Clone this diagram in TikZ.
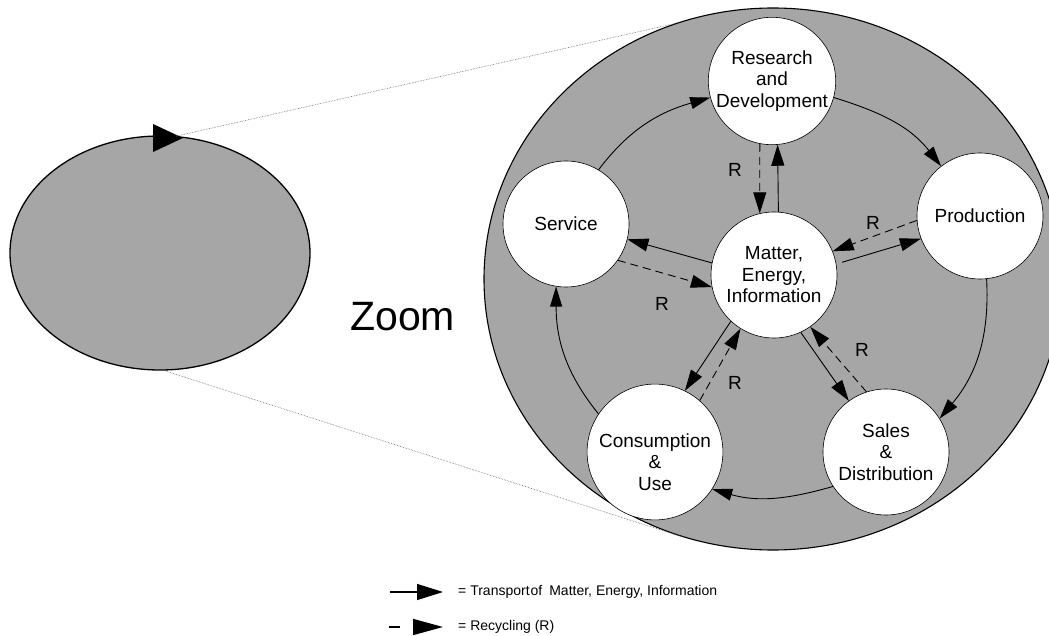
\documentclass[tikz,border=0pt]{standalone}
\usepackage{fontspec}
\setmainfont{Liberation Sans}
\usetikzlibrary{arrows.meta,shapes.geometric}
\definecolor{disc}{RGB}{166,166,166}
\begin{document}
\begin{tikzpicture}[x=1pt,y=1pt,
  stage/.style={circle,draw,line width=0.6pt,fill=white,minimum size=126pt,
    inner sep=0pt,align=center,font=\fontsize{19}{21.5}\selectfont},
  flow/.style={line width=0.9pt,-{Triangle[length=20pt,width=12pt]}},
  transport/.style={line width=0.9pt,-{Triangle[length=21pt,width=13pt]}},
  recycle/.style={transport,dash pattern=on 8pt off 5pt},
  rlabel/.style={font=\fontsize{19}{19}\selectfont,inner sep=0pt},
  zoomline/.style={densely dotted,line width=0.6pt,black!60},
  legendtext/.style={anchor=west,inner sep=0pt,font=\fontsize{14}{16}\selectfont}]
\useasboundingbox (0,0) rectangle (1049,-636);
\clip (0,0) rectangle (1049,-636);

% overview of the whole cycle
\node[ellipse,draw,line width=1.3pt,fill=disc,minimum width=300pt,minimum height=234pt,inner sep=0pt]
  (overview) at (160,-253) {};
\fill (153,-124) -- (183,-138) -- (153,-152) -- cycle;

% enlarged view
\node[ellipse,draw,line width=1.1pt,fill=disc,minimum width=578pt,minimum height=542pt,inner sep=0pt]
  (detail) at (773,-279) {};

\draw[zoomline] (overview.82) -- (detail.111);
\draw[zoomline] (overview.272) -- (detail.251);

\node[font=\fontsize{41}{41}\selectfont,anchor=base west,inner sep=0pt] (zoomword) at (350,-330) {Zoom};

% stages of the life cycle
\node[stage] (research) at (772,-81) {Research\\and\\Development};
\node[stage] (matter) at (774,-275) {Matter,\\Energy,\\Information};
\node[stage] (service) at (566,-224) {Service};
\node[stage] (production) at (980,-216) {Production};
\node[stage] (consumption) at (655,-452) {\rule{0pt}{34pt}Consumption\\\&\\Use};
\node[stage] (sales) at (886,-452) {Sales\\\&\\Distribution};

% outer cycle
\draw[flow] (service.59) to[out=53,in=196] (research.195);
\draw[flow] (research.-15) to[out=-17,in=128] (production.128);
\draw[flow] (production.276) to[out=-87,in=50] (sales.32);
\draw[flow] (sales.213) to[out=196,in=-16] (consumption.-33);
\draw[flow] (consumption.146) to[out=129,in=-90] (service.261);

% exchanges with the centre
\draw[recycle] (research.259) -- (matter.103);
\draw[transport] (matter.86) -- (research.275);
\draw[recycle] (production.184) -- (matter.22);
\draw[transport,shorten <=6pt] (matter.10) -- (production.201);
\draw[transport] (matter.169) -- (service.-14);
\draw[recycle] (service.-35) -- (matter.191);
\draw[transport] (matter.227) -- (consumption.64);
\draw[recycle] (consumption.49) -- (matter.238);
\draw[transport] (matter.-65) -- (sales.126);
\draw[recycle] (sales.108) -- (matter.-55);

\node[rlabel] (r1) at (735,-170) {R};
\node[rlabel] (r2) at (873,-223) {R};
\node[rlabel] (r3) at (662,-304) {R};
\node[rlabel] (r4) at (735,-383) {R};
\node[rlabel] (r5) at (862,-350) {R};

% legend
\coordinate (l1a) at (390,-592);
\coordinate (l1b) at (443,-592);
\coordinate (l2a) at (389,-627);
\coordinate (l2b) at (443,-627);
\draw[line width=1.2pt,-{Triangle[length=26pt,width=16pt]}] (l1a) -- (l1b);
\draw[line width=1.6pt,dash pattern=on 11pt off 100pt,-{Triangle[length=30pt,width=16pt]}] (l2a) -- (l2b);
\node[legendtext] (leg1) at (458,-592) {= Transport\hspace{1pt}of\hspace{7pt}Matter, Energy, Information};
\node[legendtext] (leg2) at (458,-627) {= Recycling (R)};
\end{tikzpicture}
\end{document}
